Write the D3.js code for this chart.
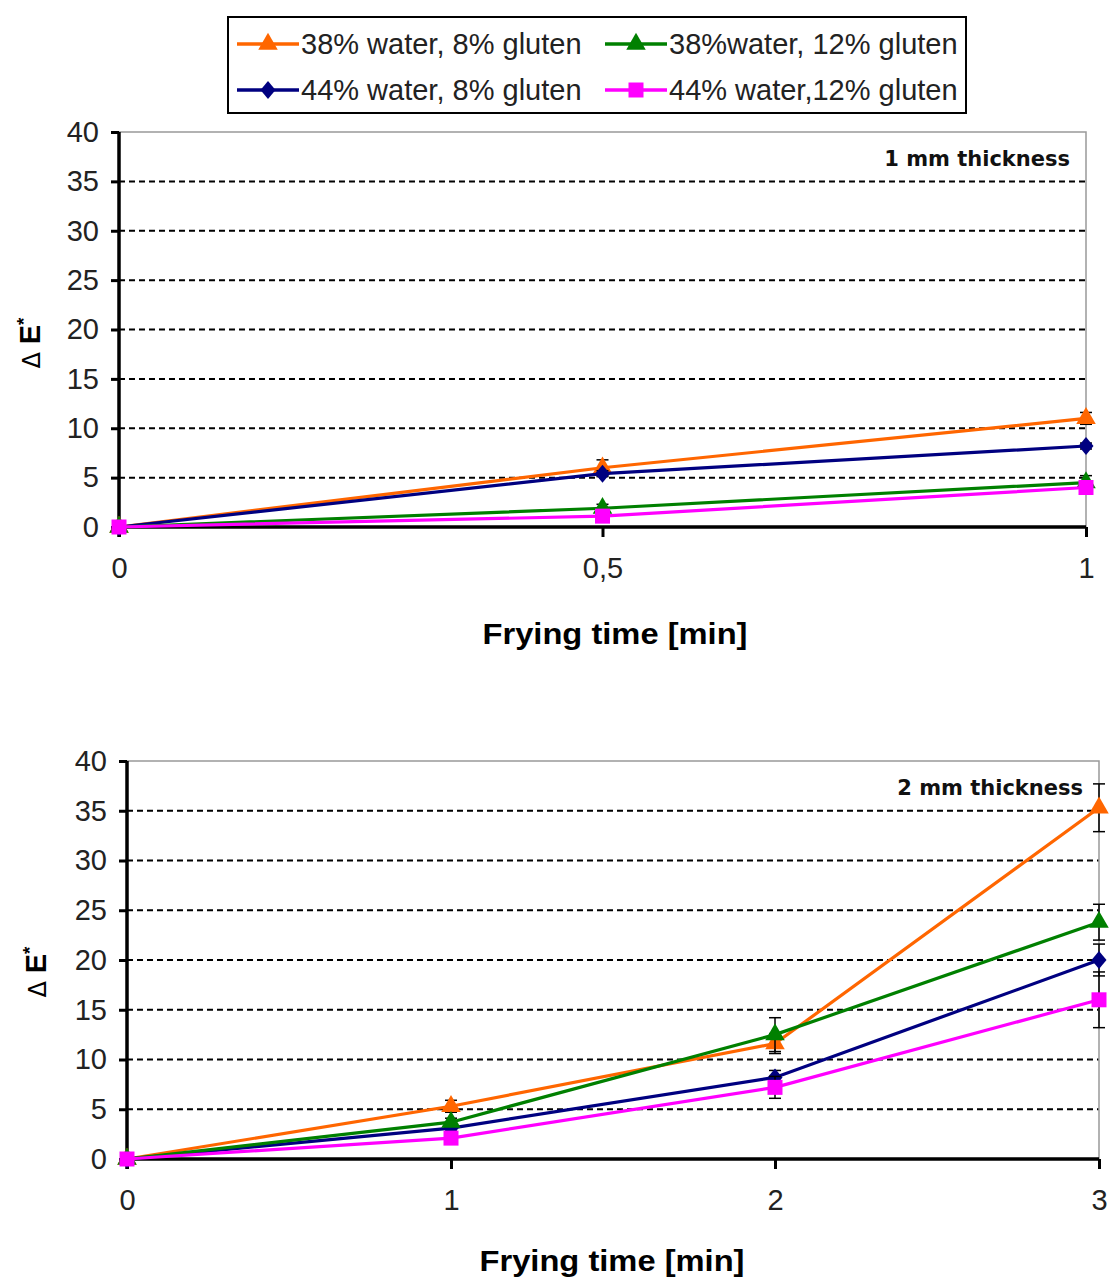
<!DOCTYPE html>
<html>
<head>
<meta charset="utf-8">
<script src="https://cdn.jsdelivr.net/npm/d3@7/dist/d3.min.js"></script>
<style>
  html, body { margin: 0; padding: 0; background: #fff; }
  svg { display: block; font-family: "Liberation Sans", Arial, sans-serif; }
</style>
</head>
<body>
<svg id="chart" width="1109" height="1280"></svg>
<script>
// Series (legend order)
const seriesNames = ["38% water, 8% gluten", "38%water, 12% gluten", "44% water, 8% gluten", "44% water,12% gluten"];
const seriesColors = ["#ff6600", "#008000", "#000080", "#ff00ff"];
const seriesSymbols = ["triangle", "triangle", "diamond", "square"];

// 1 mm thickness panel
const timesThin = [0, 0.5, 1];
const thinW38G8 = [0, 6.0, 11.0];
const thinW38G12 = [0, 1.9, 4.5];
const thinW44G8 = [0, 5.4, 8.2];
const thinW44G12 = [0, 1.1, 4.0];
const thinErrW38G8 = [0, 0.8, 0.6];
const thinErrW38G12 = [0, 0.4, 0.7];
const thinErrW44G8 = [0, 0.3, 0.3];
const thinErrW44G12 = [0, 0.3, 0.3];

// 2 mm thickness panel
const timesThick = [0, 1, 2, 3];
const thickW38G8 = [0, 5.3, 11.6, 35.3];
const thickW38G12 = [0, 3.7, 12.5, 23.8];
const thickW44G8 = [0, 3.1, 8.2, 20.0];
const thickW44G12 = [0, 2.1, 7.2, 16.0];
const thickErrW38G8 = [0, 0.6, 1.0, 2.4];
const thickErrW38G12 = [0, 0.4, 1.7, 1.8];
const thickErrW44G8 = [0, 0.3, 0.7, 1.6];
const thickErrW44G12 = [0, 0.3, 1.1, 2.8];

// Axis ticks
const yTicks = [0, 5, 10, 15, 20, 25, 30, 35, 40];
const xTicksThin = [0, 0.5, 1];
const xTicksThick = [0, 1, 2, 3];
const xTitle = "Frying time [min]";
const panelLabels = ["1 mm thickness", "2 mm thickness"];

const commaLocale = d3.formatLocale({ decimal: ",", thousands: ".", grouping: [3], currency: ["", ""] });
const fmtX = commaLocale.format("~g");

const svg = d3.select("#chart");

// Draw order so that the pink squares sit on top
const drawOrder = [0, 2, 1, 3];

function symbolPath(kind) {
  if (kind === "triangle") return d3.symbol(d3.symbolTriangle, 165)();
  if (kind === "diamond") return "M0,-9L7.5,0L0,9L-7.5,0Z";
  return "M-7.5,-7.5H7.5V7.5H-7.5Z";
}

function drawPanel(opts) {
  const { left, right, top, bottom, times, values, errors, xTicks, label, titleX, titleY, yTitleX, yTitleY } = opts;
  const x = d3.scaleLinear().domain([xTicks[0], xTicks[xTicks.length - 1]]).range([left, right]);
  const y = d3.scaleLinear().domain([0, 40]).range([bottom, top]);
  const g = svg.append("g");

  // dashed gridlines
  g.append("g").selectAll("line")
    .data(yTicks.filter(v => v > 0 && v < 40))
    .join("line")
    .attr("x1", left).attr("x2", right)
    .attr("y1", d => y(d)).attr("y2", d => y(d))
    .attr("stroke", "#000").attr("stroke-width", 2).attr("stroke-dasharray", "6,4");

  // light frame on top and right
  g.append("path")
    .attr("d", `M${left},${top}H${right}V${bottom}`)
    .attr("fill", "none").attr("stroke", "#999").attr("stroke-width", 1.5);

  // y axis
  const yAxis = g.append("g").attr("transform", `translate(${left},0)`)
    .call(d3.axisLeft(y).tickValues(yTicks).tickSize(8).tickPadding(12));
  yAxis.select(".domain").attr("stroke", "#000").attr("stroke-width", 3.5).attr("d", `M0,${top}V${bottom + 10}`);
  yAxis.selectAll(".tick line").attr("stroke", "#000").attr("stroke-width", 3);
  yAxis.selectAll(".tick text").attr("font-size", 29).attr("fill", "#222")
    .attr("font-family", "Liberation Sans, Arial, sans-serif");

  // x axis
  const xAxis = g.append("g").attr("transform", `translate(0,${bottom})`)
    .call(d3.axisBottom(x).tickValues(xTicks).tickFormat(fmtX).tickSize(10).tickPadding(20));
  xAxis.select(".domain").attr("stroke", "#000").attr("stroke-width", 3.5).attr("d", `M${left},0H${right}`);
  xAxis.selectAll(".tick line").attr("stroke", "#000").attr("stroke-width", 3);
  xAxis.selectAll(".tick text").attr("font-size", 29).attr("fill", "#222")
    .attr("font-family", "Liberation Sans, Arial, sans-serif");

  // x title
  g.append("text")
    .attr("x", titleX).attr("y", titleY)
    .attr("text-anchor", "middle")
    .attr("font-size", 30).attr("font-weight", "bold")
    .attr("textLength", 265).attr("lengthAdjust", "spacingAndGlyphs")
    .text(xTitle);

  // y title: Δ E*
  const yt = g.append("text")
    .attr("transform", `translate(${yTitleX},${yTitleY}) rotate(-90)`)
    .attr("text-anchor", "middle").attr("fill", "#000");
  yt.append("tspan").attr("font-size", 24).attr("font-family", "DejaVu Sans, sans-serif").text("\u0394 ");
  yt.append("tspan").attr("font-size", 29).attr("font-weight", "bold").text("E");
  yt.append("tspan").attr("font-size", 19).attr("font-weight", "bold").attr("dy", -10).text("*");

  // panel label
  g.append("text")
    .attr("x", right - 16).attr("y", top + 34)
    .attr("text-anchor", "end")
    .attr("font-family", "DejaVu Sans, sans-serif")
    .attr("font-size", 21).attr("font-weight", "bold").attr("fill", "#111")
    .text(label);

  const line = d3.line().x(d => x(d.t)).y(d => y(d.v));

  drawOrder.forEach(si => {
    const pts = times.map((t, i) => ({ t, v: values[si][i], e: errors[si][i] }));
    const sg = g.append("g");
    // error bars
    const eb = sg.selectAll("g.err").data(pts.filter(p => p.e > 0)).join("g");
    eb.append("line")
      .attr("x1", d => x(d.t)).attr("x2", d => x(d.t))
      .attr("y1", d => y(d.v + d.e)).attr("y2", d => y(d.v - d.e))
      .attr("stroke", "#000").attr("stroke-width", 1.5);
    [1, -1].forEach(s => {
      eb.append("line")
        .attr("x1", d => x(d.t) - 6).attr("x2", d => x(d.t) + 6)
        .attr("y1", d => y(d.v + s * d.e)).attr("y2", d => y(d.v + s * d.e))
        .attr("stroke", "#000").attr("stroke-width", 1.5);
    });
    sg.append("path").datum(pts).attr("d", line)
      .attr("fill", "none").attr("stroke", seriesColors[si]).attr("stroke-width", 3.2);
    sg.selectAll("path.mk").data(pts).join("path").attr("class", "mk")
      .attr("transform", d => `translate(${x(d.t)},${y(d.v)})`)
      .attr("d", symbolPath(seriesSymbols[si]))
      .attr("fill", seriesColors[si]);
  });
}

// Legend
const legend = svg.append("g");
legend.append("rect").attr("x", 228).attr("y", 17).attr("width", 738).attr("height", 96)
  .attr("fill", "#fff").attr("stroke", "#000").attr("stroke-width", 2);
const legendPos = [[237, 44], [605, 44], [237, 90], [605, 90]];
seriesNames.forEach((name, i) => {
  const [lx, ly] = legendPos[i];
  legend.append("line").attr("x1", lx).attr("x2", lx + 62).attr("y1", ly).attr("y2", ly)
    .attr("stroke", seriesColors[i]).attr("stroke-width", 3.5);
  legend.append("path").attr("transform", `translate(${lx + 31},${ly})`)
    .attr("d", symbolPath(seriesSymbols[i])).attr("fill", seriesColors[i]);
  legend.append("text").attr("x", lx + 64).attr("y", ly + 10)
    .attr("font-size", 29).attr("fill", "#222").text(name);
});

drawPanel({
  left: 119, right: 1086, top: 132, bottom: 527,
  times: timesThin,
  values: [thinW38G8, thinW38G12, thinW44G8, thinW44G12],
  errors: [thinErrW38G8, thinErrW38G12, thinErrW44G8, thinErrW44G12],
  xTicks: xTicksThin, label: panelLabels[0],
  titleX: 615, titleY: 644, yTitleX: 40, yTitleY: 343
});

drawPanel({
  left: 127, right: 1099, top: 761, bottom: 1159,
  times: timesThick,
  values: [thickW38G8, thickW38G12, thickW44G8, thickW44G12],
  errors: [thickErrW38G8, thickErrW38G12, thickErrW44G8, thickErrW44G12],
  xTicks: xTicksThick, label: panelLabels[1],
  titleX: 612, titleY: 1271, yTitleX: 46, yTitleY: 972
});
</script>
</body>
</html>
